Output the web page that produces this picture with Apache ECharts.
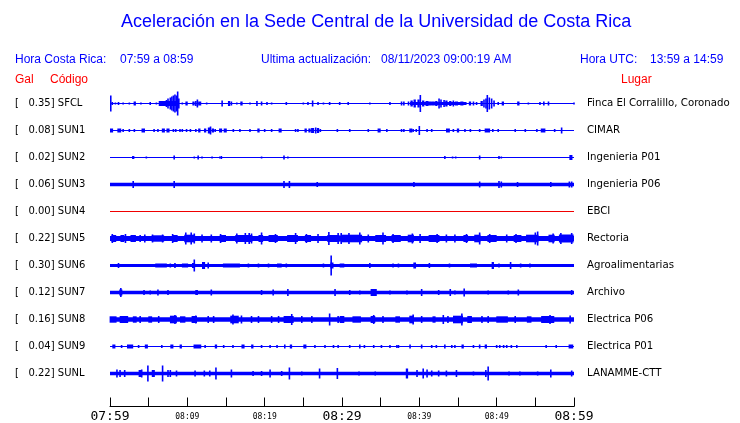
<!DOCTYPE html>
<html><head><meta charset="utf-8">
<script src="https://cdn.jsdelivr.net/npm/echarts@6/dist/echarts.min.js"></script>
<style>html,body{margin:0;padding:0;background:#fff}#c{width:740px;height:423px}</style>
</head><body><div id="c"></div>
<script>
// ---- data ----
const codes = ['SFCL','SUN1','SUN2','SUN3','SUN4','SUN5','SUN6','SUN7','SUN8','SUN9','SUNL'];
const gal = [0.35,0.08,0.02,0.06,0.00,0.22,0.30,0.12,0.16,0.04,0.22];
const places = ['Finca El Corralillo, Coronado','CIMAR','Ingenieria P01','Ingenieria P06','EBCI','Rectoria','Agroalimentarias','Archivo','Electrica P06','Electrica P01','LANAMME-CTT'];
// background (noise) half-amplitude of each trace, relative units
const noise = [0.5,0.5,0.5,1.7,0.5,2.5,1.5,1.7,2.3,0.5,1.7];
const timeTicks = [0,10,20,30,40,50,60]; // minutes after 07:59
const timeLabels = ['07:59','08:09','08:19','08:29','08:39','08:49','08:59'];
// events: [minute, half-amplitude, duration(min)]
const evSFCL = [[0.1,8],[0.3,1.5],[0.7,1],[1.1,1.5],[1.7,1],[2.5,1],[3.2,2,0.3],[4.0,1],[5.2,1.5],[6.0,1],[6.5,2,0.3],[6.9,2,0.3],[7.6,2.5,2.6],[7.3,3.5,0.2],[7.5,5],[7.8,6],[8.0,7],[8.2,8],[8.4,9],[8.6,8],[8.75,12],[8.9,5],[9.35,1],[9.9,2,0.3],[10.8,2,0.3],[11.1,2.5],[11.3,4],[11.6,2,0.4],[12.5,1],[14.5,3,0.2],[15.4,2.5,0.3],[15.7,2],[16.4,1],[17.0,2,0.3],[18.1,1],[19.0,2.5,0.2],[19.6,2],[20.3,1.5],[20.9,1],[22.8,1.5],[25.0,1],[25.6,1.5],[26.2,3],[26.9,1.5],[27.6,1],[28.4,1.5],[29.7,1.5],[30.8,1.5],[33.6,1],[36.2,1.5],[37.7,2],[38.0,2],[38.6,2],[42.45,1.5,7.3],[39.0,3,0.3],[39.4,4,0.3],[39.9,4,0.3],[40.13,8.5],[40.5,3,0.3],[41.0,2.5,0.4],[41.4,2,0.4],[41.8,2,0.4],[42.2,2.5,0.3],[42.55,5],[42.8,4],[43.2,3.5],[43.5,3,0.3],[44.0,2.5,0.3],[44.4,3],[44.8,2,0.4],[45.5,2,0.4],[45.9,1.5,0.3],[46.55,2,0.3],[47.0,2],[47.4,1.5],[48.06,2.5,0.3],[48.36,4],[48.62,5],[48.79,8.5],[49.05,6],[49.35,5],[49.66,3],[50.2,1.5],[50.8,2,0.3],[52.8,2,0.3],[54.1,1],[55.6,1.5],[56.1,2],[56.7,2],[60,1]];
const evSUN1 = [[0.2,2,0.4],[1.2,2,0.5],[1.7,1.5],[2.5,1.5],[3.15,1.5],[4.3,2,0.45],[5.7,1.5],[6.2,1.5],[6.9,2,0.4],[7.5,2,0.4],[8.2,1.5],[8.5,1.5],[9.05,1.5],[9.35,1.5],[9.9,1.5],[10.4,1.5],[11.1,1.5],[11.55,2,0.3],[12.3,2,0.3],[12.8,3,0.3],[13.0,4],[13.3,2,0.3],[13.6,1.5],[14.3,2,0.4],[14.9,2,0.4],[15.95,1.5],[16.8,1.5],[18.1,1.5],[19.2,2,0.3],[20.0,1.5],[20.9,1.5],[22.0,2,0.4],[24.0,1.5],[24.3,1.5],[25.3,2,0.3],[25.8,2,0.3],[26.2,2.5,0.4],[26.6,3],[26.9,2.5,0.3],[27.2,1.5],[29.4,1.5],[31.0,1.5],[33.4,1.5],[34.8,2,0.4],[35.8,1.5],[37.7,1.5],[38.0,1.5],[38.9,2,0.4],[39.2,1.5],[39.6,1.5],[40.0,4.5],[41.0,1.5],[41.6,1.5],[43.7,2,0.5],[44.4,1.5],[45.0,2,0.3],[45.9,1.5],[46.6,1.5],[47.8,1.5],[48.8,2,0.7],[49.5,1.5],[50.2,1.5],[52.4,1.5],[53.7,1.5],[55.2,1.5],[56.0,2,0.6],[57.5,1.5],[58.4,3]];
const evSUN2 = [[3.0,1.5,0.3],[4.7,1],[8.3,2],[10.9,1],[11.4,2],[11.9,1],[13.2,1],[14.2,1],[14.4,1.5],[19.6,1],[22.5,2],[23.0,1],[43.3,1.5],[44.3,1],[44.7,1],[47.8,2],[50.3,1.5],[50.6,1],[59.6,2.5,0.4]];
const evSUN3 = [[3.0,3.5],[8.3,3.5],[22.5,3.5],[23.2,3.5],[26.8,2.5],[39.3,2.5],[47.8,3],[50.3,3.5],[50.6,3],[52.7,2.5],[57.0,2.5],[59.4,3],[59.7,3]];
const evSUN4 = [];
const evSUN5 = [[0.5,3.5,0.6],[0.3,4.5],[1.6,3.5,0.5],[2.0,4.5],[3.0,3.5,0.7],[3.9,3.5],[4.5,4],[6.2,3.2,1.6],[5.5,4],[6.8,4],[8.4,3.5,0.7],[8.1,4.5],[10.3,3.8,1.4],[9.8,6],[10.5,6],[10.9,5],[11.9,4],[13.1,4],[14.6,3.5,0.8],[14.3,4.5],[17.3,3.5,2.2],[16.4,5],[17.5,5.5],[18.0,5.5],[18.3,5],[19.5,3.5,0.6],[19.6,6],[21.1,3.5,1.2],[21.4,4.5],[23.6,3.5,1.4],[24.0,5.5],[25.6,3.5,0.8],[25.4,4.5],[26.9,4.5],[28.9,3.5,1.6],[28.3,6.5],[29.5,5.5],[31.2,3.8,2.8],[29.9,5.5],[30.9,5.5],[32.3,6],[33.4,4],[35.0,3.5,1.4],[35.3,6],[37.0,3.5,1.2],[36.6,4.5],[38.9,3.8,0.8],[39.1,5],[40.1,4.5],[41.9,3.5,1.4],[42.3,4.5],[43.5,4],[44.6,4],[46.0,3.5,0.6],[46.1,4.5],[47.5,3.8,0.8],[47.8,6],[49.4,3.5,1.2],[49.1,4.5],[51.3,4],[52.7,3.5,1.0],[52.5,4.5],[54.6,3.8,1.6],[55.3,7],[55.0,6],[57.1,3.8,0.8],[57.3,5],[59.0,4,1.9],[58.3,5.5],[59.7,5.5]];
const evSUN6 = [[1.1,2.5],[6.6,2,1.5],[7.8,2],[8.4,2.5],[9.7,2,0.8],[10.8,2.5,0.4],[10.9,6],[12.1,3.5,0.4],[12.7,3],[15.7,2,2.2],[17.9,2],[19.2,2],[20.5,2],[21.9,2,0.6],[22.8,2],[27.6,2],[28.7,3,0.4],[28.6,10],[30.0,2,0.6],[33.6,2.5],[36.6,2],[37.3,2],[39.4,3,0.35],[41.3,2.5],[43.9,2],[47.0,2,0.9],[49.5,3.5,0.3],[50.3,2],[51.8,3.5],[53.1,2],[54.3,2]];
const evSUN7 = [[1.4,3,0.4],[1.4,4.5],[4.4,2.5],[5.2,2],[6.2,3],[7.5,2.5],[11.2,2.5,0.35],[13.1,3],[19.6,2.5],[21.1,3],[23.0,3.5],[29.1,3.5],[31.0,2.5],[32.3,2],[34.1,3.5,0.8],[36.2,2],[38.4,2],[40.3,3.5],[42.5,2.5],[44.0,3.5],[44.6,2],[45.8,4],[48.9,2],[51.5,2],[52.8,3],[59.7,2.5]];
const evSUN8 = [[0.4,3.2,0.9],[1.8,3.5,1.1],[3.2,3.2,0.5],[3.9,3.5],[5.2,3.2,0.5],[6.3,3.5],[8.2,3.8,0.9],[8.4,4.5],[9.4,3.2,0.7],[10.9,3.5,0.7],[11.1,4],[12.7,3.5],[13.4,3.5],[16.1,3.8,1.1],[15.9,5],[17.0,4],[18.3,3.5],[19.2,3.5],[20.9,3.5],[21.8,3.5],[23.1,3.5,1.3],[23.5,5.5],[24.8,3.5],[26.1,3.5],[28.4,6],[29.5,3.5],[30.0,3.5,0.6],[31.9,3.2,1.1],[34.0,3.5,0.6],[34.1,4.5],[35.3,3.5],[37.2,3.2,0.6],[39.0,3.8,0.6],[39.2,5],[40.3,3.5],[41.9,3.2,0.4],[43.1,4.5],[43.7,3.5],[45.0,3.8,1.3],[45.5,6],[46.5,3.5,0.6],[48.1,3.5],[48.9,3.5],[50.7,3.2,1.5],[52.4,3.5],[54.2,3.2,0.6],[56.6,3.5,1.7],[56.9,4.5],[59.5,4]];
const evSUN9 = [[0.5,2,0.4],[1.5,1.5],[2.6,2,0.8],[3.7,1.5],[4.7,2,0.4],[6.7,1.5],[8.0,2,0.4],[9.15,2,0.3],[11.3,2,1.0],[12.3,1.5],[13.7,2,0.3],[14.7,1.5],[15.9,1.5],[17.2,2,0.4],[18.4,2,0.3],[19.6,1.5],[20.7,1.5],[21.6,1.5],[22.6,2],[23.4,2,0.3],[25.2,2,0.4],[26.5,1.5],[27.8,1.5],[28.9,1.5],[29.5,1.5],[31.0,1.5],[32.3,2],[32.9,1.5],[34.1,1.5],[35.1,1.5],[36.2,1.5],[37.1,1.5],[37.3,1.5],[38.8,2],[40.3,2],[41.6,1.5],[42.2,1.5],[43.3,2],[44.2,1.5],[44.6,1.5],[45.6,2,0.3],[47.0,1.5],[47.8,2],[48.6,2,0.3],[50.0,1.5],[50.4,1.5],[50.9,1.5],[51.3,1.5],[51.9,1.5],[52.6,1.5],[56.4,1.5],[57.7,1.5],[59.6,2,0.6]];
const evSUNL = [[0.9,4],[1.3,3.5],[1.9,3.5],[3.9,3.5,0.4],[4.1,4],[4.9,8],[5.6,3.5,0.4],[6.8,8],[7.5,3.5],[7.8,3.5],[8.6,3],[11.0,3],[12.2,3],[12.9,3],[13.7,6],[15.7,4],[18.5,2.5],[19.6,2.5],[20.7,4],[22.2,2.5],[23.2,6],[24.8,2],[27.1,5],[29.4,5.5],[32.2,2],[34.3,2],[38.4,5,0.3],[39.7,3.5],[40.5,5],[41.0,4],[41.6,3],[42.5,3],[43.5,3],[44.8,3.5],[47.0,2],[48.6,3.5],[48.9,7],[51.6,2],[53.0,2],[55.3,2],[57.0,4],[59.7,3]];
const events = [evSFCL,evSUN1,evSUN2,evSUN3,evSUN4,evSUN5,evSUN6,evSUN7,evSUN8,evSUN9,evSUNL];

// ---- layout / styles ----
const BLUE = '#0000ff', RED = '#ff0000';
const ROW0 = 103.5, ROWSTEP = 27, HALF = 13.5;
const PLOT_L = 110, PLOT_W = 464;
const traceColor = i => (codes[i] === 'SUN4' ? '#f00000' : BLUE);

const grids = [], xAxes = [], yAxes = [], series = [], graphics = [];
codes.forEach((c, i) => {
  const yc = ROW0 + ROWSTEP * i;
  grids.push({left: PLOT_L, width: PLOT_W, top: yc - HALF, height: HALF * 2});
  xAxes.push({type: 'value', gridIndex: i, min: 0, max: 60, show: false});
  yAxes.push({type: 'value', gridIndex: i, min: -HALF, max: HALF, show: false});
  const col = traceColor(i);
  series.push({
    type: 'custom', xAxisIndex: i, yAxisIndex: i, silent: true, clip: false,
    data: [[noise[i]]],
    renderItem: (p, api) => {
      const a = api.value(0);
      const p1 = api.coord([0, a]), p2 = api.coord([60, -a]);
      const h = Math.max(p2[1] - p1[1], 1);
      return {type: 'rect', shape: {x: p1[0], y: (p1[1] + p2[1]) / 2 - h / 2, width: p2[0] - p1[0], height: h}, style: {fill: col}};
    }
  });
  series.push({
    type: 'custom', xAxisIndex: i, yAxisIndex: i, silent: true, clip: false,
    data: events[i].map(e => [e[0], e[1], e[2] || 0]),
    renderItem: (p, api) => {
      const t = api.value(0), a = api.value(1), d = api.value(2) || 0;
      const p1 = api.coord([t - d / 2, a]), p2 = api.coord([t + d / 2, -a]);
      const w = Math.max(p2[0] - p1[0], 1.6);
      const cx = (p1[0] + p2[0]) / 2;
      return {type: 'rect', shape: {x: cx - w / 2, y: p1[1], width: w, height: p2[1] - p1[1]}, style: {fill: col}};
    }
  });
  graphics.push({type: 'text', x: 15, y: yc, style: {text: '[   ' + gal[i].toFixed(2) + '] ' + c, fill: '#000', font: '10px "DejaVu Sans"', verticalAlign: 'middle'}});
  graphics.push({type: 'text', x: 587, y: yc, style: {text: places[i], fill: '#000', font: '10.2px "DejaVu Sans"', verticalAlign: 'middle'}});
});

// time axis
const ti = codes.length;
grids.push({left: PLOT_L, width: PLOT_W, top: 395, height: 14});
xAxes.push({
  type: 'value', gridIndex: ti, min: 0, max: 60, interval: 5,
  axisLine: {show: true, lineStyle: {color: '#000', width: 1}},
  axisTick: {show: true, inside: true, length: 9, lineStyle: {color: '#000', width: 1}},
  splitLine: {show: false},
  axisLabel: {
    margin: 3,
    formatter: v => {
      const k = timeTicks.indexOf(v);
      if (k < 0) return '';
      return (k % 3 === 0) ? '{b|' + timeLabels[k] + '}' : '{s|' + timeLabels[k] + '}';
    },
    rich: {
      b: {fontFamily: 'DejaVu Sans Mono', fontSize: 13, color: '#000', lineHeight: 14},
      s: {fontFamily: 'DejaVu Sans Mono', fontSize: 8, color: '#000', lineHeight: 14}
    }
  }
});
yAxes.push({type: 'value', gridIndex: ti, min: 0, max: 1, show: false});
series.push({type: 'line', xAxisIndex: ti, yAxisIndex: ti, data: [], silent: true});

const hdrFont = '12px "Liberation Sans"';
const hdr = (x, y, text, fill, font) => ({type: 'text', x: x, y: y, style: {text: text, fill: fill, font: font || hdrFont, verticalAlign: 'middle'}});
graphics.push(
  hdr(121, 22, 'Aceleración en la Sede Central de la Universidad de Costa Rica', BLUE, '18px "Liberation Sans"'),
  hdr(15, 60, 'Hora Costa Rica:', BLUE),
  hdr(120, 60, '07:59 a 08:59', BLUE),
  hdr(261, 60, 'Ultima actualización:', BLUE),
  hdr(381, 60, '08/11/2023 09:00:19 AM', BLUE),
  hdr(580, 60, 'Hora UTC:', BLUE),
  hdr(650, 60, '13:59 a 14:59', BLUE),
  hdr(15, 80, 'Gal', RED),
  hdr(50, 80, 'Código', RED),
  hdr(621, 80, 'Lugar', RED)
);

const chart = echarts.init(document.getElementById('c'), null, {renderer: 'canvas'});
chart.setOption({animation: false, backgroundColor: '#fff', grid: grids, xAxis: xAxes, yAxis: yAxes, series: series, graphic: graphics});
</script></body></html>
